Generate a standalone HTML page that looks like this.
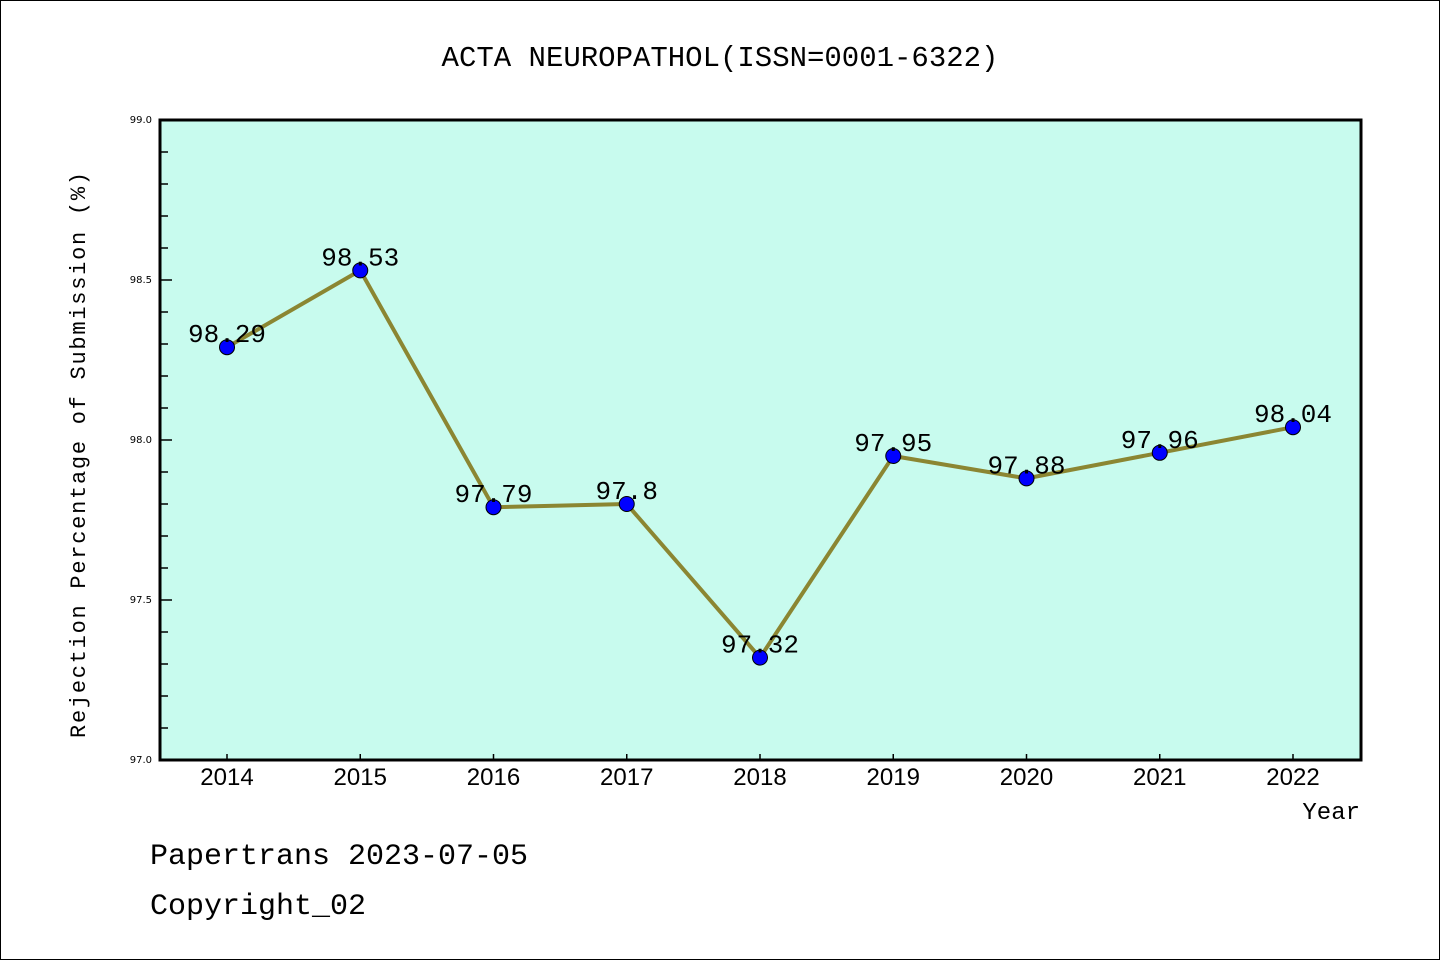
<!DOCTYPE html>
<html><head><meta charset="utf-8"><style>
html,body{margin:0;padding:0;background:#fff}
svg{display:block}
text{font-family:"Liberation Mono","Noto Sans CJK SC",monospace}
</style></head><body>
<svg id="chart" width="1440" height="960">
<rect x="0.5" y="0.5" width="1439" height="959" fill="#fff" stroke="#000"/>
<text x="720" y="66" font-size="29" text-anchor="middle">ACTA NEUROPATHOL(ISSN=0001-6322)</text>
<rect x="160" y="120" width="1201" height="640" fill="#c8fbee"/>
<g id="axes"></g>
<g id="marks"></g>
<rect x="160" y="120" width="1201" height="640" fill="none" stroke="#000" stroke-width="3"/>
<text x="85" y="455" font-size="22" text-anchor="middle" transform="rotate(-90 85 455)" textLength="566">Rejection Percentage of Submission (%)</text>
<text x="1360" y="819" font-size="24" text-anchor="end">Year</text>
<text x="150" y="864" font-size="30">Papertrans 2023-07-05</text>
<text x="150" y="914" font-size="30">Copyright_02</text>
</svg>
<script>
const years = ["2014","2015","2016","2017","2018","2019","2020","2021","2022"];
const values = [98.29, 98.53, 97.79, 97.8, 97.32, 97.95, 97.88, 97.96, 98.04];
const valueLabels = ["98.29","98.53","97.79","97.8","97.32","97.95","97.88","97.96","98.04"];
const yTicks = ["97.0","97.5","98.0","98.5","99.0"];
const NS = "http://www.w3.org/2000/svg";
const yMin = 97, yMax = 99;
function ys(v){ return 760 - (v - yMin) / (yMax - yMin) * 640; }
function xs(i){ return 227 + i * 133.25; }
function mk(tag, attrs, parent, txt){
  const e = document.createElementNS(NS, tag);
  for (const k in attrs) e.setAttribute(k, attrs[k]);
  if (txt !== undefined) e.textContent = txt;
  parent.appendChild(e); return e;
}
const axes = document.getElementById('axes');
const marks = document.getElementById('marks');
for (let k = 0; k <= 20; k++) {
  const v = yMin + k * 0.1, y = ys(v), major = k % 5 === 0;
  const t = mk('line', {x1:160, x2:160 + (major ? 12 : 8), y1:y, y2:y, stroke:'#000', 'stroke-width':1.5}, axes);
  
  
}
yTicks.forEach(s => {
  const y = ys(parseFloat(s));
  const t = mk('text', {x:152, y:y + 3, 'font-size':10, 'text-anchor':'end', style:'font-family:"DejaVu Sans",sans-serif'}, axes, s);
  
  
});
years.forEach((yr, i) => {
  const x = xs(i);
  const t = mk('line', {x1:x, x2:x, y1:760, y2:754, stroke:'#000', 'stroke-width':1.5}, axes);
  
  
  const l = mk('text', {x:x, y:785, 'font-size':24, 'text-anchor':'middle', style:'font-family:"Liberation Sans",sans-serif'}, axes, yr);
  
  
});
const pts = values.map((v, i) => xs(i) + ',' + ys(v)).join(' ');
const line = mk('polyline', {points:pts, fill:'none', stroke:'#8b8632', 'stroke-width':4, 'stroke-linejoin':'round'}, marks);


values.forEach((v, i) => {
  const c = mk('circle', {cx:xs(i), cy:ys(v), r:7.5, fill:'#0000ff', stroke:'#000', 'stroke-width':1}, marks);
  
  
});
values.forEach((v, i) => {
  const t = mk('text', {x:xs(i), y:ys(v) - 5, 'font-size':26, 'text-anchor':'middle'}, marks, valueLabels[i]);
  
  
});
</script>
</body></html>
